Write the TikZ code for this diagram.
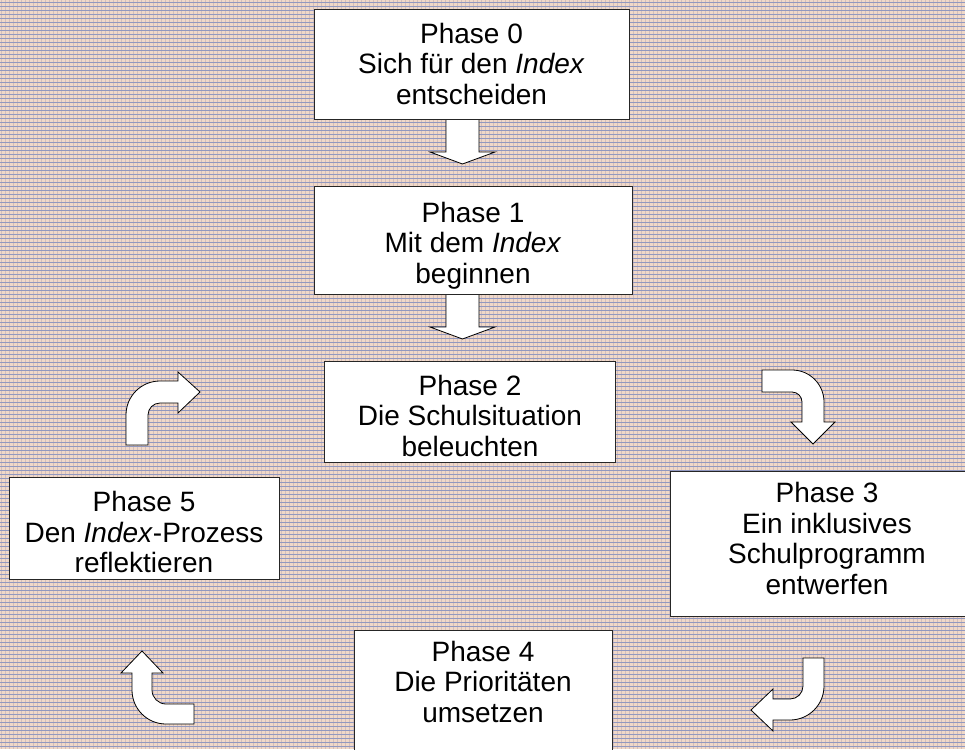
\documentclass[tikz,border=0pt]{standalone}
\usepackage{fontspec}
\setmainfont{Liberation Sans}
\definecolor{bgbase}{RGB}{240,216,200}
\definecolor{bgh}{RGB}{145,152,192}
\definecolor{bgv}{RGB}{212,190,186}
\begin{document}
\begin{tikzpicture}[x=1pt,y=-1pt,
  box/.style={draw=black!85, line width=1pt, fill=white, inner sep=0pt, rectangle},
  txt/.style={align=center, inner sep=0pt, font=\fontsize{28}{30.5}\selectfont},
  blk/.style={draw=black, line width=0.8pt, fill=white, line join=miter}]
\useasboundingbox (0,0) rectangle (965,749);
\clip (0,0) rectangle (965,749);
% background pattern
\fill[bgbase] (0,0) rectangle (965,749);
\foreach \i in {0,...,241} \draw[bgv, line width=0.5pt] (\i*4+1,0) -- (\i*4+1,749);
\foreach \i in {0,...,187} \draw[bgh, line width=0.4pt] (0,\i*4+2) -- (965,\i*4+2);

% straight block arrows
\draw[blk] (446,119) -- (479,119) -- (479,152) -- (495,152) -- (462.5,164) -- (430,152) -- (446,152) -- cycle;
\draw[blk] (446,294) -- (479,294) -- (479,327) -- (495,327) -- (462.5,339) -- (430,327) -- (446,327) -- cycle;

% boxes
\node[box, minimum width=315pt, minimum height=109pt] (b0) at (471.5,64.5) {};
\node[box, minimum width=318pt, minimum height=108pt] (b1) at (473,240) {};
\node[box, minimum width=291pt, minimum height=101pt] (b2) at (469.5,411.5) {};
\node[box, minimum width=315pt, minimum height=145pt] (b3) at (827.5,543.5) {};
\node[box, minimum width=258pt, minimum height=140pt] (b4) at (483,700) {};
\node[box, minimum width=270pt, minimum height=102pt] (b5) at (144,528) {};

% texts
\node[txt] (t0) at (471.5,67.9) {\strut Phase 0\\\strut Sich für den \textit{Index}\\\strut entscheiden};
\node[txt] (t1) at (473,246.4) {\strut Phase 1\\\strut Mit dem \textit{Index}\\\strut beginnen};
\node[txt] (t2) at (470,419.6) {\strut Phase 2\\\strut Die Schulsituation\\\strut beleuchten};
\node[txt] (t3) at (827,542.4) {\strut Phase 3\\\strut Ein inklusives\\\strut Schulprogramm\\\strut entwerfen};
\node[txt] (t4) at (483,685.6) {\strut Phase 4\\\strut Die Prioritäten\\\strut umsetzen};
\node[txt] (t5) at (144,535.9) {\strut Phase 5\\\strut Den \textit{Index}-Prozess\\\strut reflektieren};

% curved block arrows
% top left (from Phase 5 up/right toward Phase 2)
\draw[blk] (126,445) -- (126,415) .. controls (126,396.2) and (141.2,381) .. (160,381)
  -- (178,381) -- (178,372) -- (200,392) -- (178,413) -- (178,403) -- (160,403)
  .. controls (153.4,403) and (148,408.4) .. (148,415) -- (148,445) -- cycle;
% top right (toward Phase 3)
\draw[blk] (762,370) -- (792,370) .. controls (809.7,370) and (824,384.3) .. (824,402)
  -- (824,422) -- (835,422) -- (813,444) -- (791,422) -- (802,422) -- (802,402)
  .. controls (802,396.5) and (797.5,392) .. (792,392) -- (762,392) -- cycle;
% bottom right (toward Phase 4)
\draw[blk] (803,658) -- (824,658) -- (824,686) .. controls (824,704.8) and (808.8,720) .. (790,720)
  -- (773,720) -- (773,731) -- (751,710) -- (773,689) -- (773,699) -- (790,699)
  .. controls (797.2,699) and (803,693.2) .. (803,686) -- cycle;
% bottom left (toward Phase 5)
\draw[blk] (194,724) -- (166,724) .. controls (147.2,724) and (132,708.8) .. (132,690)
  -- (132,673) -- (121,673) -- (142,651) -- (163,673) -- (152,673) -- (152,690)
  .. controls (152,697.7) and (158.3,704) .. (166,704) -- (194,704) -- cycle;
\end{tikzpicture}
\end{document}
